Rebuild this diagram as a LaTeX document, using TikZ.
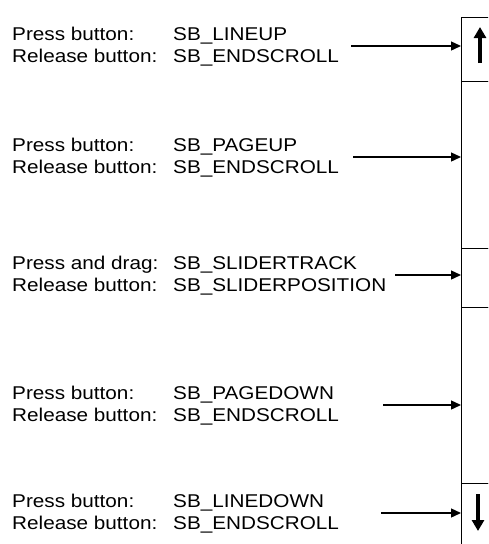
\documentclass[tikz,border=0pt]{standalone}
\usepackage{fontspec}
\setmainfont{Liberation Sans}[FakeStretch=1.12]
\usetikzlibrary{arrows.meta, positioning}

\begin{document}
\begin{tikzpicture}[
  x=1pt, y=-1pt,
  font=\fontsize{18.5}{22}\selectfont,
  txt/.style={anchor=base west, inner sep=0pt, align=left},
  bar/.style={draw, line width=1.3pt, anchor=north west, minimum width=60pt, inner sep=0pt},
  ar/.style={-{Triangle[length=10pt, width=9pt]}, line width=1.4pt},
  glyph/.style={-{Triangle[length=11pt, width=12pt]}, line width=3.2pt}
]
\useasboundingbox (0,0) rectangle (488,544);
\clip (0,0) rectangle (488,544);
% scroll bar
\node[bar, minimum height=64pt] (lineup) at (461,17) {};
\node[bar, minimum height=167pt] (pageup) at (461,81) {};
\node[bar, minimum height=59pt] (thumb) at (461,248) {};
\node[bar, minimum height=176pt] (pagedown) at (461,307) {};
\node[bar, minimum height=90pt] (linedown) at (461,483) {};
\draw[glyph] (480,63) -- (480,27);
\draw[glyph] (478,494) -- (478,531);
% messages (base = last line)
\node[txt] (act1) at (12,62) {Press button:\\Release button:};
\node[txt] (msg1) at (173,62) {SB\_LINEUP\\SB\_ENDSCROLL};
\node[txt] (act2) at (12,173) {Press button:\\Release button:};
\node[txt] (msg2) at (173,173) {SB\_PAGEUP\\SB\_ENDSCROLL};
\node[txt] (act3) at (12,291) {Press and drag:\\Release button:};
\node[txt] (msg3) at (173,291) {SB\_SLIDERTRACK\\SB\_SLIDERPOSITION};
\node[txt] (act4) at (12,421) {Press button:\\Release button:};
\node[txt] (msg4) at (173,421) {SB\_PAGEDOWN\\SB\_ENDSCROLL};
\node[txt] (act5) at (12,529) {Press button:\\Release button:};
\node[txt] (msg5) at (173,529) {SB\_LINEDOWN\\SB\_ENDSCROLL};
% arrows
\coordinate (s1) at (351,46);
\coordinate (s2) at (353,157);
\coordinate (s3) at (395,275);
\coordinate (s4) at (383,405);
\coordinate (s5) at (381,513);
\draw[ar] (s1) -- (s1 -| lineup.west);
\draw[ar] (s2) -- (s2 -| pageup.west);
\draw[ar] (s3) -- (s3 -| thumb.west);
\draw[ar] (s4) -- (s4 -| pagedown.west);
\draw[ar] (s5) -- (s5 -| linedown.west);
\end{tikzpicture}
\end{document}
